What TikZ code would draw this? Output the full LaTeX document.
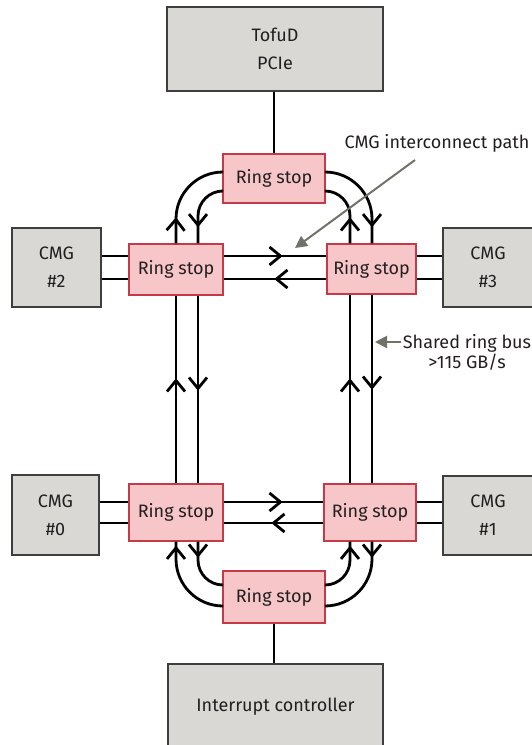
\documentclass[tikz,border=0pt]{standalone}
\usepackage{fontspec}
\setmainfont{Fira Sans}
\usepackage{tikz}
\usetikzlibrary{arrows.meta,decorations.markings,positioning}

\definecolor{boxfill}{RGB}{217,216,213}
\definecolor{boxline}{RGB}{62,62,62}
\definecolor{stopfill}{RGB}{247,198,200}
\definecolor{stopline}{RGB}{196,58,72}
\definecolor{notegray}{RGB}{112,114,106}
\definecolor{textdark}{RGB}{35,31,32}

\begin{document}
\begin{tikzpicture}[x=1pt,y=-1pt,
	every node/.style={font=\fontsize{18}{28}\selectfont,text=textdark,align=center,inner sep=0pt},
	cmgbox/.style={draw=boxline,fill=boxfill,line width=1.6pt},
	stopbox/.style={draw=stopline,fill=stopfill,line width=1.4pt,minimum width=94pt,minimum height=51pt},
	ring/.style={line width=2.8pt,black},
	flow/.style={postaction={decorate,decoration={markings,mark=at position #1 with {\arrow{Straight Barb[length=11pt,width=18pt]}}}}},
	note/.style={draw=notegray,line width=2pt,-{Triangle[length=12pt,width=12pt]}}]
	\useasboundingbox (0,0) rectangle (532,745);

	\node[cmgbox,minimum width=216pt,minimum height=84pt] (tofud) at (275,49) {TofuD\\PCIe};
	\node[cmgbox,minimum width=215pt,minimum height=86pt] (intc) at (275.5,707) {Interrupt controller};
	\node[cmgbox,minimum width=89pt,minimum height=79pt] (cmg2) at (56.5,267.5) {CMG\\\#2};
	\node[cmgbox,minimum width=90pt,minimum height=79pt] (cmg3) at (488,267.5) {CMG\\\#3};
	\node[cmgbox,minimum width=87pt,minimum height=80pt] (cmg0) at (55.5,515) {CMG\\\#0};
	\node[cmgbox,minimum width=90pt,minimum height=79pt] (cmg1) at (488,515.5) {CMG\\\#1};

	\node[stopbox,minimum width=102pt,minimum height=49pt] (rsT) at (274,178.5) {Ring stop};
	\node[stopbox,minimum width=102pt,minimum height=52pt] (rsB) at (274,597) {Ring stop};
	\node[stopbox] (rs2) at (176,269.5) {Ring stop};
	\node[stopbox,minimum width=89pt,minimum height=50pt] (rs3) at (371.5,269) {Ring stop};
	\node[stopbox,minimum height=57pt] (rs0) at (176,512.5) {Ring stop};
	\node[stopbox,minimum width=92pt,minimum height=57pt] (rs1) at (370,512.5) {Ring stop};

	\coordinate (oL) at (176,0);
	\coordinate (iL) at (198,0);
	\coordinate (iR) at (350,0);
	\coordinate (oR) at (372,0);
	\coordinate (yOT) at (0,172);
	\coordinate (yIT) at (0,191);
	\coordinate (yIB) at (0,585);
	\coordinate (yOB) at (0,606);
	\coordinate (hA) at (0,256);
	\coordinate (hB) at (0,279);
	\coordinate (hC) at (0,502);
	\coordinate (hD) at (0,523);

	\draw[ring] (rsT.north |- tofud.south) -- (rsT.north);
	\draw[ring] (rsB.south) -- (rsB.south |- intc.north);

	\foreach \lv in {hA,hB} {
		\draw[ring] (cmg2.east |- \lv) -- (rs2.west |- \lv);
		\draw[ring] (rs3.east |- \lv) -- (cmg3.west |- \lv);
	}
	\foreach \lv in {hC,hD} {
		\draw[ring] (cmg0.east |- \lv) -- (rs0.west |- \lv);
		\draw[ring] (rs1.east |- \lv) -- (cmg1.west |- \lv);
	}

	\draw[ring,flow=59pt] (rs2.east |- hA) -- (rs3.west |- hA);
	\draw[ring,flow=52pt] (rs3.west |- hB) -- (rs2.east |- hB);
	\draw[ring,flow=59pt] (rs0.east |- hC) -- (rs1.west |- hC);
	\draw[ring,flow=52pt] (rs1.west |- hD) -- (rs0.east |- hD);

	\draw[ring,flow=105pt] (rs0.north -| oL) -- (rs2.south -| oL);
	\draw[ring,flow=95pt] (rs2.south -| iL) -- (rs0.north -| iL);
	\draw[ring,flow=105pt] (rs1.north -| iR) -- (rs3.south -| iR);
	\draw[ring,flow=95pt] (rs3.south -| oR) -- (rs1.north -| oR);

	\draw[ring,rounded corners=47pt,flow=26pt] (rs2.north -| oL) |- (rsT.west |- yOT);
	\draw[ring,rounded corners=25pt,flow=-16pt] (rsT.west |- yIT) -| (rs2.north -| iL);
	\draw[ring,rounded corners=47pt,flow=-16pt] (rsT.east |- yOT) -| (rs3.north -| oR);
	\draw[ring,rounded corners=25pt,flow=26pt] (rs3.north -| iR) |- (rsT.east |- yIT);

	\draw[ring,rounded corners=47pt,flow=-4pt] (rsB.west |- yOB) -| (rs0.south -| oL);
	\draw[ring,rounded corners=25pt,flow=16pt] (rs0.south -| iL) |- (rsB.west |- yIB);
	\draw[ring,rounded corners=25pt,flow=-4pt] (rsB.east |- yIB) -| (rs1.south -| iR);
	\draw[ring,rounded corners=47pt,flow=16pt] (rs1.south -| oR) |- (rsB.east |- yOB);

	\node (lblpath) at (437,143) {CMG interconnect path};
	\node[font=\fontsize{18}{20}\selectfont,inner sep=2pt] (lblbus) at (467,352) {Shared ring bus\\>115 GB/s};
	\coordinate (pathtail) at (415,160);
	\coordinate (pathtip) at (295,248);
	\coordinate (bustip) at (375,342);
	\draw[note] (pathtail) -- (pathtip);
	\draw[note] (lblbus.west |- bustip) -- (bustip);
\end{tikzpicture}
\end{document}
